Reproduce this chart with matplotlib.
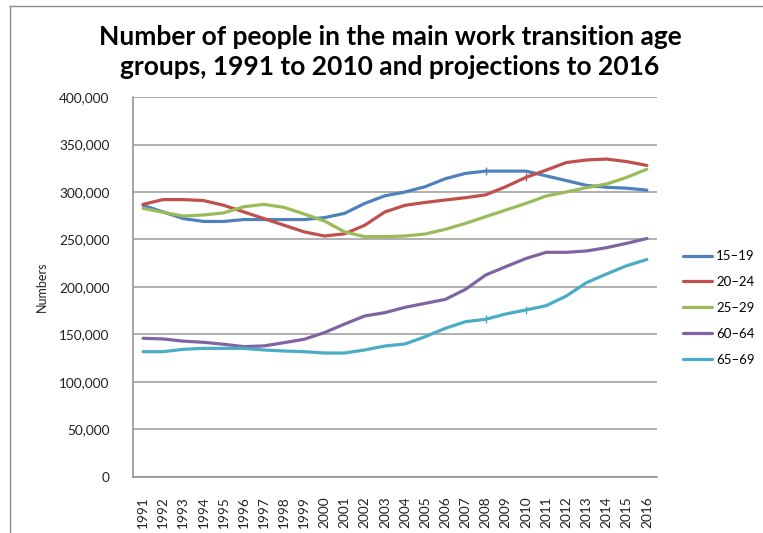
import matplotlib
matplotlib.use('Agg')

import matplotlib.pyplot as plt
from matplotlib.lines import Line2D
from matplotlib.ticker import FuncFormatter

# Years on the category axis
years = [str(y) for y in range(1991, 2017)]

# Population of each age group
age_15_19 = [286000, 279000, 272000, 269000, 269000, 271000, 271000, 271000, 271000,
             273000, 277500, 288000, 296000, 300000, 305600, 314000, 319600, 322000,
             322000, 322000, 317000, 312000, 307000, 305000, 304000, 302000]
age_20_24 = [287000, 292000, 292000, 291000, 286000, 279000, 272000, 265000, 258000,
             253700, 256000, 265000, 279000, 286000, 289000, 291600, 294000, 297000,
             305600, 315400, 323000, 331000, 333700, 334700, 332000, 328000]
age_25_29 = [282800, 278600, 274700, 275800, 278000, 284500, 287000, 283800, 276800,
             269500, 258000, 253000, 253000, 253700, 255800, 260700, 267000, 274000,
             281000, 288000, 295800, 300000, 304500, 308400, 315400, 324000]
age_60_64 = [146000, 145300, 143000, 141800, 139700, 137200, 138000, 141400, 145000,
             152000, 161000, 169500, 173000, 178600, 182800, 187000, 197500, 212600,
             221400, 230000, 236500, 236500, 237900, 241400, 246000, 251000]
age_65_69 = [131900, 131900, 134400, 135400, 135400, 135400, 133700, 132600, 131900,
             130500, 130500, 133700, 137900, 140000, 147700, 156500, 163500, 166000,
             171600, 175800, 180300, 190500, 204500, 213700, 222400, 229000]

series_labels = ['15\u201319', '20\u201324', '25\u201329', '60\u201364', '65\u201369']
series_values = [age_15_19, age_20_24, age_25_29, age_60_64, age_65_69]
series_colors = ['#4F81BD', '#C0504D', '#9BBB59', '#8064A2', '#4BACC6']

# Small tick marks drawn on some of the lines (index of the year)
series_marks = [[17], [19], [], [], [17, 19]]

if __name__ == '__main__':

    plt.rcParams['font.family'] = ['Lato', 'DejaVu Sans']

    fig = plt.figure(figsize = (7.63, 5.33), dpi = 100)
    axis = fig.add_axes([0.1743, 0.1051, 0.6867, 0.7129])

    # Draw every series
    x = list(range(len(years)))
    for values, label, color, marks in zip(series_values, series_labels,
                                           series_colors, series_marks):
        axis.plot(x, values, color = color, linewidth = 2.3, label = label,
                  solid_capstyle = 'round')
        if marks:
            axis.plot([x[i] for i in marks], [values[i] for i in marks],
                      linestyle = 'none', marker = '|', markersize = 6,
                      markeredgewidth = 1.0, color = color)

    # Axis limits and ticks
    axis.set_xlim(-0.5, len(years) - 0.5)
    axis.set_ylim(0, 400000)
    axis.set_yticks(range(0, 400001, 50000))
    axis.yaxis.set_major_formatter(FuncFormatter(lambda v, p: f'{int(v):,}'))
    axis.set_xticks(x)
    axis.set_xticklabels(years, rotation = 90)
    axis.tick_params(axis = 'y', length = 0, pad = 17, labelsize = 9.8,
                     labelcolor = '#222222')
    axis.tick_params(axis = 'x', length = 0, pad = 14, labelsize = 9.8,
                     labelcolor = '#222222')

    # Grid and spines
    axis.grid(True, axis = 'y', color = '#9a9a9a', linewidth = 1.1)
    axis.set_axisbelow(True)
    for side in ['top', 'right']:
        axis.spines[side].set_visible(False)
    for side in ['left', 'bottom']:
        axis.spines[side].set_color('#8c8c8c')
        axis.spines[side].set_linewidth(1.1)

    axis.set_ylabel('Numbers', fontsize = 9, labelpad = 8, color = '#222222')

    # Legend on the right
    axis.legend(loc = 'center left', bbox_to_anchor = (1.04, 0.445),
                frameon = False, fontsize = 9.5, handlelength = 2.2,
                handletextpad = 0.3, labelspacing = 1.05, borderaxespad = 0)

    # Two-line bold title
    fig.text(0.511, 0.931, 'Number of people in the main work transition age',
             ha = 'center', va = 'center', fontsize = 19, fontweight = 'bold')
    fig.text(0.511, 0.874, 'groups, 1991 to 2010 and projections to 2016',
             ha = 'center', va = 'center', fontsize = 19, fontweight = 'bold')

    # Outer chart border (top and left edges visible)
    fig.add_artist(Line2D([10 / 763, 1], [1 - 6 / 533, 1 - 6 / 533],
                          transform = fig.transFigure, color = '#8c8c8c',
                          linewidth = 1.0))
    fig.add_artist(Line2D([10 / 763, 10 / 763], [0, 1 - 6 / 533],
                          transform = fig.transFigure, color = '#8c8c8c',
                          linewidth = 1.0))

    fig.savefig('out.png', dpi = 100)
